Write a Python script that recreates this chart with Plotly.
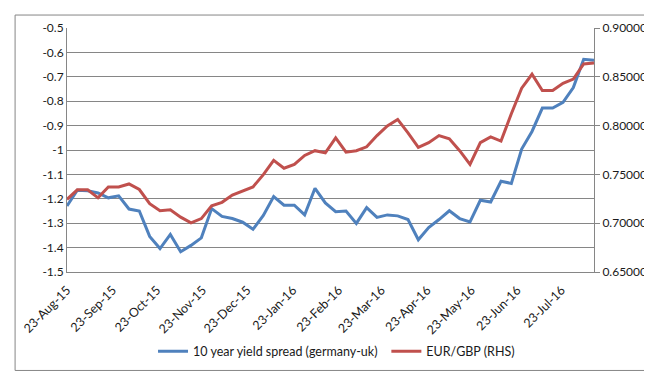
import plotly.graph_objects as go
import pandas as pd

start_date = "2015-08-23"
n_weeks = 52
dates = pd.date_range(start_date, periods=n_weeks, freq="7D")

spread = [-1.229, -1.165, -1.167, -1.176, -1.196, -1.188, -1.242, -1.250, -1.354, -1.404,
          -1.346, -1.417, -1.391, -1.360, -1.240, -1.272, -1.281, -1.296, -1.325, -1.268,
          -1.191, -1.226, -1.226, -1.266, -1.157, -1.217, -1.253, -1.250, -1.301, -1.236,
          -1.276, -1.266, -1.270, -1.285, -1.368, -1.318, -1.285, -1.249, -1.281, -1.295,
          -1.206, -1.213, -1.128, -1.137, -0.996, -0.924, -0.828, -0.828, -0.805, -0.744,
          -0.628, -0.632]

eurgbp = [0.7244, 0.7342, 0.7342, 0.7260, 0.7372, 0.7372, 0.7402, 0.7345, 0.7200, 0.7128,
          0.7138, 0.7062, 0.7003, 0.7047, 0.7178, 0.7214, 0.7289, 0.7328, 0.7372, 0.7497,
          0.7644, 0.7563, 0.7602, 0.7694, 0.7743, 0.7720, 0.7875, 0.7727, 0.7743, 0.7783,
          0.7898, 0.7997, 0.8063, 0.7925, 0.7777, 0.7825, 0.7898, 0.7865, 0.7743, 0.7602,
          0.7826, 0.7885, 0.7842, 0.8122, 0.8384, 0.8526, 0.8359, 0.8359, 0.8434, 0.8477,
          0.8631, 0.8641]

x_tick_dates = ["2015-08-23", "2015-09-23", "2015-10-23", "2015-11-23", "2015-12-23",
                "2016-01-23", "2016-02-23", "2016-03-23", "2016-04-23", "2016-05-23",
                "2016-06-23", "2016-07-23"]
x_tick_text = ["23-Aug-15", "23-Sep-15", "23-Oct-15", "23-Nov-15", "23-Dec-15", "23-Jan-16",
               "23-Feb-16", "23-Mar-16", "23-Apr-16", "23-May-16", "23-Jun-16", "23-Jul-16"]

left_ticks = [-0.5, -0.6, -0.7, -0.8, -0.9, -1.0, -1.1, -1.2, -1.3, -1.4, -1.5]
left_tick_text = ["-0.5", "-0.6", "-0.7", "-0.8", "-0.9", "-1", "-1.1", "-1.2", "-1.3", "-1.4", "-1.5"]
right_ticks = [0.65, 0.70, 0.75, 0.80, 0.85, 0.90]

W, H = 652, 371
ML, MR, MT, MB = 53, 66, 14, 103
FONT = "Lato, 'Open Sans', sans-serif"
GRID = "#868686"
TXT = "#1a1a1a"

pw = W - ML - MR
ph = H - MT - MB

fig = go.Figure()
fig.add_trace(go.Scatter(x=dates, y=spread, mode="lines", name="10 year yield spread (germany-uk)",
                         line=dict(color="#4F81BD", width=3), legend="legend"))
fig.add_trace(go.Scatter(x=dates, y=eurgbp, mode="lines", name="EUR/GBP (RHS)", yaxis="y2",
                         line=dict(color="#C0504D", width=3), legend="legend2"))

xrange = [dates[0], dates[-1]]

fig.add_shape(type="rect", xref="paper", yref="paper",
              x0=(0.5 - ML) / pw, x1=(W - 0.5 - ML) / pw,
              y0=-(H - 0.5 - MT - ph) / ph, y1=(MT - 0.5) / ph + 1,
              line=dict(color=GRID, width=1), layer="below")

leg_y = -(351 - MT - ph) / ph
leg_common = dict(orientation="h", yanchor="middle", y=leg_y, xanchor="left",
                  font=dict(size=12.5), bgcolor="rgba(0,0,0,0)", borderwidth=0)

fig.update_layout(
    width=W, height=H,
    margin=dict(l=ML, r=MR, t=MT, b=MB),
    paper_bgcolor="white", plot_bgcolor="white",
    font=dict(family=FONT, size=12, color=TXT),
    xaxis=dict(type="date", range=xrange, tickvals=x_tick_dates, ticktext=x_tick_text,
               tickangle=-45, ticks="", showgrid=False, showline=True, linecolor=GRID,
               linewidth=1, zeroline=False, tickfont=dict(size=12.5), ticklabelstandoff=5),
    xaxis2=dict(type="date", overlaying="x", side="top", range=xrange, tickvals=x_tick_dates,
                showticklabels=False, ticks="inside", ticklen=5, tickcolor=GRID,
                showgrid=False, showline=True, linecolor=GRID, zeroline=False),
    yaxis=dict(range=[-1.5, -0.5], tickvals=left_ticks, ticktext=left_tick_text,
               showgrid=True, gridcolor=GRID, gridwidth=1, showline=True, linecolor=GRID,
               ticks="", zeroline=False, tickfont=dict(size=12)),
    yaxis2=dict(range=[0.65, 0.90], tickvals=right_ticks, tickformat=".5f", overlaying="y",
                side="right", showgrid=False, showline=True, linecolor=GRID, ticks="outside",
                ticklen=5, tickcolor=GRID, zeroline=False, tickfont=dict(size=12)),
    legend=dict(x=(140 - ML) / pw, **leg_common),
    legend2=dict(x=(376 - ML) / pw, **leg_common),
    showlegend=True,
)

fig.write_html("out.html")
